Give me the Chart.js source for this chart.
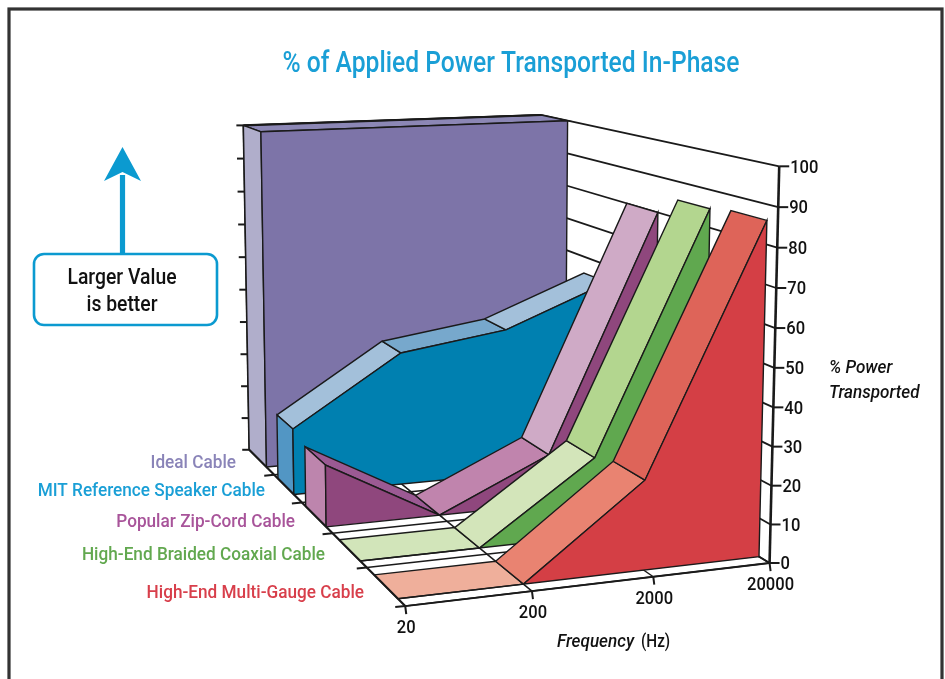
<!DOCTYPE html>
<html>
<head>
<meta charset="utf-8">
<style>
  html, body { margin: 0; padding: 0; background: #fff; }
  canvas { display: block; }
</style>
<script src="https://cdn.jsdelivr.net/npm/chart.js@4/dist/chart.umd.js"></script>
</head>
<body>
<canvas id="combined" width="945" height="679"></canvas>
<script>
const chartTitle = '% of Applied Power Transported In-Phase';
const frequencies = ['20', '200', '2000', '20000'];
const valueTicks = [0, 10, 20, 30, 40, 50, 60, 70, 80, 90, 100];
const cableNames = ['Ideal Cable', 'MIT Reference Speaker Cable', 'Popular Zip-Cord Cable', 'High-End Braided Coaxial Cable', 'High-End Multi-Gauge Cable'];

// % power at 20, 200, 2000, 20000 Hz
const idealCable = [100, 100, 100, 100];
const mitCable = [19, 38.5, 43, 55];
const zipCordCable = [17, 0, 14, 80];
const coaxialCable = [0, 0, 21, 85];
const multiGaugeCable = [0, 0, 23, 86];
const cableValues = [idealCable, mitCable, zipCordCable, coaxialCable, multiGaugeCable];

const labelColors = ['#8a84b8', '#1a9fd6', '#a8549a', '#62a84f', '#d83f4b'];
const frontColors = ['#7d74a8', '#0080b0', '#8f477d', '#60a84f', '#d43f45'];
const capColors = ['#b0aecb', '#5296c4', '#bd85ad', '#d2e5ba', '#efaf9b'];
const topColors = [
    ['#8c87b5'],
    ['#a3c0da', '#77a8cc', '#a3c0da'],
    ['#9b5a93', '#c084ad', '#cfaac6'],
    ['#d2e5ba', '#d3e5ba', '#b3d68f'],
    ['#efaf9b', '#e98371', '#de6459']
];
// each cable's band on the depth axis (0 = front edge, 5 = back wall)
const bandFront = [4.3, 3.28, 2.2, 1.18, 0.18];
const bandBack = [5, 3.86, 2.87, 1.8, 0.8];

const ink = '#1a1a1a';
const cyan = '#0b9ad0';
const face = 'Roboto, sans-serif';

// camera: [frequency index, depth, value, pixel x, pixel y]
const calibration = [
    [0, 0, 0, 407, 606], [1, 0, 0, 532, 591], [2, 0, 0, 652, 577], [3, 0, 0, 770, 563],
    [0, 1, 0, 365, 568], [0, 2, 0, 333, 533], [0, 3, 0, 302, 502], [0, 4, 0, 273, 475], [0, 5, 0, 250, 450],
    [0, 5, 50, 247, 290], [0, 5, 100, 243, 125], [3, 5, 100, 541, 115],
    [3, 0, 50, 775, 367], [3, 0, 100, 779, 167]
];

function fitCamera(points) {
    const n = 11;
    const A = Array.from({length: n}, () => new Array(n + 1).fill(0));
    const addRow = (row, rhs) => {
        for (let i = 0; i < n; i++) {
            for (let j = 0; j < n; j++) A[i][j] += row[i] * row[j];
            A[i][n] += row[i] * rhs;
        }
    };
    points.forEach(([u, t, w, px, py]) => {
        const W = w / 100, X = px / 1000, Y = py / 1000;
        addRow([u, t, W, 1, 0, 0, 0, 0, -X * u, -X * t, -X * W], X);
        addRow([0, 0, 0, 0, u, t, W, 1, -Y * u, -Y * t, -Y * W], Y);
    });
    for (let c = 0; c < n; c++) {
        let best = c;
        for (let r = c + 1; r < n; r++) if (Math.abs(A[r][c]) > Math.abs(A[best][c])) best = r;
        [A[c], A[best]] = [A[best], A[c]];
        for (let r = 0; r < n; r++) {
            if (r === c) continue;
            const f = A[r][c] / A[c][c];
            for (let k = c; k <= n; k++) A[r][k] -= f * A[c][k];
        }
    }
    return A.map((row, i) => row[n] / row[i]);
}

const cam = fitCamera(calibration);

function project(u, t, w) {
    const W = w / 100;
    const d = cam[8] * u + cam[9] * t + cam[10] * W + 1;
    return {
        x: 1000 * (cam[0] * u + cam[1] * t + cam[2] * W + cam[3]) / d,
        y: 1000 * (cam[4] * u + cam[5] * t + cam[6] * W + cam[7]) / d
    };
}

// painter's list, furthest first
const layers = [];
function polygon(points, color) {
    layers.push({
        data: points.concat([points[0]]),
        showLine: true,
        fill: 'shape',
        backgroundColor: color,
        borderColor: ink,
        borderWidth: 1.4,
        pointRadius: 0,
        tension: 0
    });
}
function line(a, b, width) {
    layers.push({
        data: [a, b],
        showLine: true,
        fill: false,
        borderColor: ink,
        borderWidth: width,
        pointRadius: 0,
        tension: 0
    });
}

const lastU = frequencies.length - 1;
// right wall and back wall gridlines
valueTicks.forEach(v => {
    line(project(0, 5, v), project(lastU, 5, v), 1.8);
    line(project(lastU, 5, v), project(lastU, 0, v), 1.8);
});
line(project(lastU, 5, 0), project(lastU, 5, 100), 1.8);
line(project(0, 5, 0), project(0, 5, 100), 1.8);
// floor gridlines
for (let t = 0; t <= 5; t++) line(project(0, t, 0), project(lastU, t, 0), 1.5);
frequencies.forEach((f, u) => line(project(u, 0, 0), project(u, 5, 0), 1.5));

cableValues.forEach((values, s) => {
    const tf = bandFront[s], tb = bandBack[s];
    const step = lastU / topColors[s].length;
    topColors[s].forEach((color, i) => {
        const u = i * step;
        polygon([project(u, tb, values[u]), project(u + step, tb, values[u + step]),
            project(u + step, tf, values[u + step]), project(u, tf, values[u])], color);
    });
    if (values[0] > 0) {
        polygon([project(0, tb, 0), project(0, tb, values[0]), project(0, tf, values[0]), project(0, tf, 0)], capColors[s]);
    }
    const front = [project(0, tf, 0)];
    values.forEach((v, u) => front.push(project(u, tf, v)));
    front.push(project(lastU, tf, 0));
    polygon(front, frontColors[s]);
});

// axis lines on top
line(project(lastU, 0, 0), project(lastU, 0, 100), 2.6);
line(project(0, 0, 0), project(0, 5, 0), 2);
line(project(0, 0, 0), project(lastU, 0, 0), 1.8);
line(project(0, 5, 100), project(lastU, 5, 100), 2.2);

const textPlugin = {
    id: 'annotations',
    beforeDraw(chart) {
        const ctx = chart.ctx;
        ctx.save();
        ctx.fillStyle = '#fff';
        ctx.fillRect(0, 0, chart.width, chart.height);
        ctx.strokeStyle = '#333';
        ctx.lineWidth = 3.2;
        ctx.strokeRect(9, 9, 933, 690);
        ctx.restore();
    },
    afterDraw(chart) {
        const ctx = chart.ctx;
        const px = p => ({x: chart.scales.x.getPixelForValue(p.x), y: chart.scales.y.getPixelForValue(p.y)});
        // no condensed face is installed, so squeeze the text sideways
        const text = (s, x, y, font, color, align, squeeze) => {
            ctx.save();
            ctx.translate(x, y + 1.5);
            ctx.scale(squeeze, 1);
            ctx.font = font;
            ctx.fillStyle = color;
            ctx.textAlign = align;
            ctx.textBaseline = 'middle';
            ctx.fillText(s, 0, 0);
            ctx.restore();
        };
        ctx.save();
        text(chartTitle, 511, 63, '500 29px ' + face, '#1a9fd6', 'center', 0.85);

        // value axis ticks
        ctx.strokeStyle = ink;
        ctx.lineWidth = 2;
        valueTicks.forEach(v => {
            const p = px(project(lastU, 0, v));
            ctx.beginPath(); ctx.moveTo(p.x, p.y); ctx.lineTo(p.x + 10, p.y); ctx.stroke();
            text(String(v), p.x + 11, p.y, '500 19px ' + face, '#111', 'left', 0.87);
            const q = px(project(0, 5, v));
            ctx.beginPath(); ctx.moveTo(q.x - 7, q.y); ctx.lineTo(q.x, q.y); ctx.stroke();
        });
        // frequency ticks
        frequencies.forEach((f, u) => {
            const p = px(project(u, 0, 0));
            ctx.beginPath(); ctx.moveTo(p.x, p.y); ctx.lineTo(p.x + 1, p.y + 8); ctx.stroke();
            text(f, p.x + 1, p.y + 21, '500 19px ' + face, '#111', 'center', 0.87);
        });
        // depth ticks and cable names
        cableNames.forEach((name, s) => {
            const p = px(project(0, 5 - s - 1, 0));
            ctx.beginPath(); ctx.moveTo(p.x - 10, p.y + 1); ctx.lineTo(p.x, p.y); ctx.stroke();
        });
        const labelX = [236, 265, 295, 325, 364];
        const labelY = [462, 490, 521, 554, 592];
        cableNames.forEach((name, s) => text(name, labelX[s], labelY[s], '500 19px ' + face, labelColors[s], 'right', 0.905));

        text('Frequency', 557, 641, 'italic 500 18px ' + face, '#111', 'left', 0.95);
        text('(Hz)', 641, 641, '500 18px ' + face, '#111', 'left', 0.85);
        text('% Power', 829, 367, 'italic 500 18px ' + face, '#111', 'left', 0.95);
        text('Transported', 829, 392, 'italic 500 18px ' + face, '#111', 'left', 0.95);

        // callout
        ctx.strokeStyle = cyan;
        ctx.lineWidth = 5.2;
        ctx.beginPath(); ctx.moveTo(122.5, 254); ctx.lineTo(122.5, 175); ctx.stroke();
        ctx.fillStyle = cyan;
        ctx.beginPath();
        ctx.moveTo(122.5, 147); ctx.lineTo(141, 181); ctx.lineTo(122.5, 172); ctx.lineTo(104, 181);
        ctx.closePath(); ctx.fill();
        ctx.lineWidth = 2.6;
        ctx.beginPath(); ctx.roundRect(34, 254, 183, 71, 10); ctx.stroke();
        text('Larger Value', 122, 277, '500 22px ' + face, '#111', 'center', 0.88);
        text('is better', 122, 304, '500 22px ' + face, '#111', 'center', 0.88);
        ctx.restore();
    }
};

new Chart(document.getElementById('combined').getContext('2d'), {
    type: 'scatter',
    data: {datasets: layers.slice().reverse()},
    options: {
        responsive: false,
        animation: false,
        layout: {padding: 0},
        plugins: {legend: {display: false}, tooltip: {enabled: false}, title: {display: false}},
        scales: {
            x: {type: 'linear', display: false, min: 0, max: 945},
            y: {type: 'linear', display: false, min: 0, max: 679, reverse: true}
        }
    },
    plugins: [textPlugin]
});
</script>
</body>
</html>
